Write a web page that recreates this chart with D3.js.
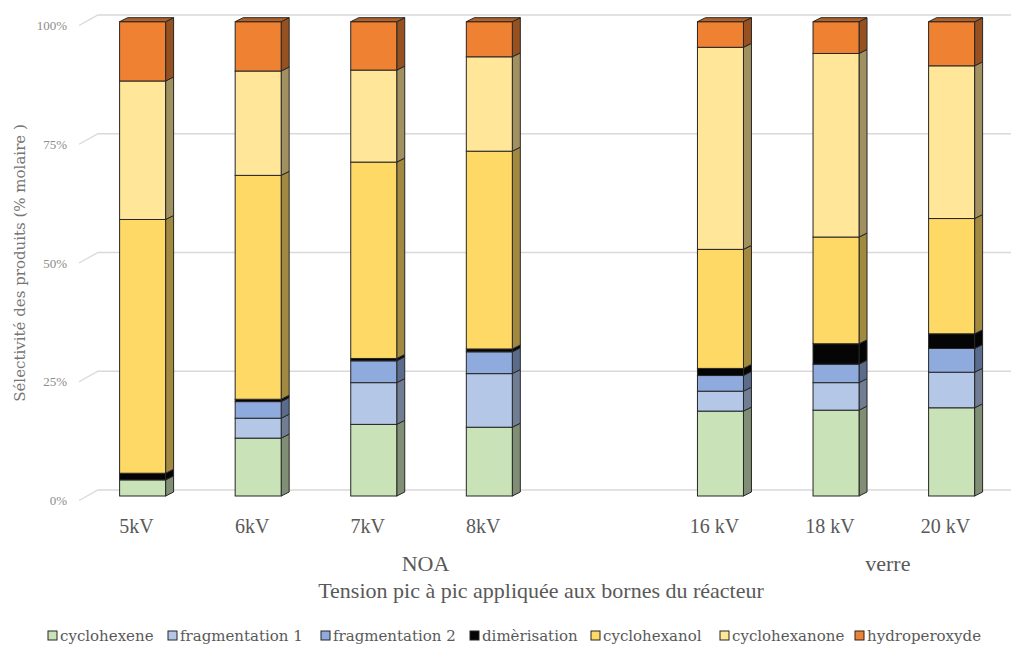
<!DOCTYPE html>
<html>
<head>
<meta charset="utf-8">
<script src="https://cdn.jsdelivr.net/npm/d3@7/dist/d3.min.js"></script>
<style>
  html, body { margin: 0; padding: 0; background: #fff; }
  svg { display: block; font-family: "Liberation Serif", "DejaVu Serif", serif; }
</style>
</head>
<body>
<svg id="chart" width="1011" height="648"></svg>
<script>
// Voltage categories (the empty key is the gap between the two reactor groups)
const categories = ["5kV", "6kV", "7kV", "8kV", "", "16 kV", "18 kV", "20 kV"];

// Molar selectivity per product (%), one value per category
const cyclohexene    = [3.4, 12.2, 15.1, 14.5, null, 17.9, 18.1, 18.6];
const fragmentation1 = [0,    4.2,  8.8, 11.3, null,  4.2,  5.8,  7.5];
const fragmentation2 = [0,    3.5,  4.6,  4.6, null,  3.3,  3.9,  5.0];
const dimerisation   = [1.4,  0.5,  0.5,  0.6, null,  1.5,  4.3,  3.1];
const cyclohexanol   = [53.5, 47.2, 41.4, 41.7, null, 25.1, 22.5, 24.3];
const cyclohexanone  = [29.2, 22.0, 19.4, 19.9, null, 42.6, 38.7, 32.2];
const hydroperoxyde  = [12.5, 10.4, 10.2,  7.4, null,  5.4,  6.7,  9.3];

const seriesNames  = ["cyclohexene", "fragmentation 1", "fragmentation 2", "dimèrisation",
                      "cyclohexanol", "cyclohexanone", "hydroperoxyde"];
const seriesValues = [cyclohexene, fragmentation1, fragmentation2, dimerisation,
                      cyclohexanol, cyclohexanone, hydroperoxyde];
const seriesColors = ["#c9e2b8", "#b4c7e7", "#8faadc", "#050505", "#ffd966", "#ffe699", "#ef8133"];

// Group labels sit between two category positions
const groupLabels = ["NOA", "verre"];
const groupAnchors = [["7kV", "8kV"], ["18 kV", "20 kV"]];

const yTicks = [0, 25, 50, 75, 100];
const yTickLabels = ["0%", "25%", "50%", "75%", "100%"];

const svg = d3.select("#chart");

// 3D depth offset of bars and back wall
const dx = 8, dy = 4;
const barW = 46;

const x = d3.scalePoint().domain(categories).range([142.6, 951.6]);
// front face of bars
const y = d3.scaleLinear().domain([0, 100]).range([496, 21.7]);
// back wall gridlines
const yWall = d3.scaleLinear().domain([0, 100]).range([490, 15]);

// Gridlines: short slanted floor segment then horizontal line on the wall
const grid = svg.append("g");
yTicks.forEach(t => {
  const yy = yWall(t);
  grid.append("path")
    .attr("d", `M79,${yy + 10.5}L98,${yy}L1011,${yy}`)
    .attr("fill", "none")
    .attr("stroke", "#d9d9d9")
    .attr("stroke-width", 1.3);
});

// Y tick labels
svg.append("g").selectAll("text")
  .data(yTicks)
  .join("text")
  .attr("x", 67)
  .attr("y", (d) => yWall(d) + 10.5)
  .attr("dy", "0.35em")
  .attr("text-anchor", "end")
  .attr("fill", "#8c8c8c")
  .attr("font-size", 13)
  .text((d, i) => yTickLabels[i]);

// Stack the data
const rows = categories.map((c, i) => {
  const r = { cat: c };
  seriesNames.forEach((s, k) => { r[s] = seriesValues[k][i]; });
  return r;
}).filter(r => r.cat !== "");

const stack = d3.stack().keys(seriesNames).value((d, k) => d[k] || 0);
const stacked = stack(rows);

const shade = (c, f) => {
  const col = d3.rgb(c);
  return d3.rgb(col.r * f, col.g * f, col.b * f).formatHex();
};

const bars = svg.append("g");
rows.forEach((r, ri) => {
  const cx = x(r.cat);
  const x0 = cx - barW / 2, x1 = cx + barW / 2;
  const g = bars.append("g");
  const segs = [];
  stacked.forEach((layer, k) => {
    const [v0, v1] = layer[ri];
    if (v1 - v0 > 0) segs.push({ k, v0, v1 });
  });
  segs.forEach((s, idx) => {
    const yt = y(s.v1), yb = y(s.v0);
    const col = seriesColors[s.k];
    // side face
    g.append("path")
      .attr("d", `M${x1},${yb}L${x1 + dx},${yb - dy}L${x1 + dx},${yt - dy}L${x1},${yt}Z`)
      .attr("fill", shade(col, s.k === 3 ? 1 : 0.63))
      .attr("stroke", "#262626").attr("stroke-width", 1).attr("stroke-linejoin", "round");
    // front face
    g.append("rect")
      .attr("x", x0).attr("y", yt)
      .attr("width", barW).attr("height", yb - yt)
      .attr("fill", col)
      .attr("stroke", "#262626").attr("stroke-width", 1);
    // top face on the highest segment
    if (idx === segs.length - 1) {
      g.append("path")
        .attr("d", `M${x0},${yt}L${x0 + dx},${yt - dy}L${x1 + dx},${yt - dy}L${x1},${yt}Z`)
        .attr("fill", shade(col, 0.75))
        .attr("stroke", "#262626").attr("stroke-width", 1).attr("stroke-linejoin", "round");
    }
  });
});

// X category labels
svg.append("g").selectAll("text")
  .data(categories.filter(c => c !== ""))
  .join("text")
  .attr("x", d => x(d) - 6)
  .attr("y", 533)
  .attr("text-anchor", "middle")
  .attr("fill", "#595959")
  .attr("font-size", 20)
  .text(d => d);

// Group labels
svg.append("g").selectAll("text")
  .data(groupLabels)
  .join("text")
  .attr("x", (d, i) => (x(groupAnchors[i][0]) + x(groupAnchors[i][1])) / 2 - 6)
  .attr("y", 571)
  .attr("text-anchor", "middle")
  .attr("fill", "#595959")
  .attr("font-size", 22)
  .text(d => d);

// Axis titles
svg.append("text")
  .attr("x", 541).attr("y", 598)
  .attr("text-anchor", "middle")
  .attr("fill", "#595959")
  .attr("font-size", 22)
  .text("Tension pic à pic appliquée aux bornes du réacteur");

svg.append("text")
  .attr("transform", "translate(25,263) rotate(-90)")
  .attr("text-anchor", "middle")
  .attr("fill", "#757575")
  .attr("font-family", "'DejaVu Serif', serif")
  .attr("font-size", 15)
  .text("Sélectivité des produits (% molaire )");

// Legend
const legendX = [48, 168, 321, 470, 591, 720, 855];
const legend = svg.append("g");
seriesNames.forEach((s, k) => {
  legend.append("rect")
    .attr("x", legendX[k]).attr("y", 631)
    .attr("width", 9).attr("height", 9)
    .attr("fill", seriesColors[k])
    .attr("stroke", "#262626").attr("stroke-width", 1);
  legend.append("text")
    .attr("x", legendX[k] + 12).attr("y", 636)
    .attr("dy", "0.35em")
    .attr("fill", "#595959")
    .attr("font-family", "'DejaVu Serif', serif")
    .attr("font-size", 15)
    .text(s);
});
</script>
</body>
</html>
